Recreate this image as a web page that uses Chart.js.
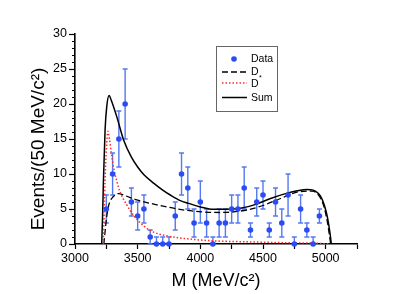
<!DOCTYPE html>
<html>
<head>
<meta charset="utf-8">
<script src="https://cdn.jsdelivr.net/npm/chart.js@4"></script>
<style>
  html, body { margin: 0; padding: 0; background: #fff; }
  #wrap { width: 415px; height: 294px; }
</style>
</head>
<body>
<div id="wrap"><canvas id="chart" width="415" height="294"></canvas></div>
<script>
// measured data points (50 MeV bins)
const massBins = [3250, 3300, 3350, 3400, 3450, 3500, 3550, 3600, 3650, 3700, 3750, 3800,
  3850, 3900, 3950, 4000, 4050, 4100, 4150, 4200, 4250, 4300, 4350, 4400, 4450, 4500,
  4550, 4600, 4650, 4700, 4750, 4800, 4850, 4900, 4950];
const events = [5, 10, 15, 20, 6, 4, 5, 1, 0, 0, 0, 4, 10, 8, 3, 6, 3, 0, 3, 3, 5, 5, 8, 2,
  6, 7, 2, 6, 3, 7, 0, 5, 2, 0, 4];
const errLow = [3, 7, 11, 15, 4, 2, 3, 0, 0, 0, 0, 2, 7, 5, 1, 3, 1, 0, 1, 1, 3, 3, 5, 1,
  4, 5, 1, 4, 1, 4, 0, 3, 1, 0, 3];
const errHigh = [7, 13, 19, 25, 8, 6, 7, 2, 1, 1, 1, 6, 13, 11, 5, 9, 5, 1, 5, 5, 7, 7, 11, 3,
  8, 9, 3, 8, 5, 10, 1, 7, 3, 1, 5];

// fit curves
const dMass = [3230, 3253, 3270, 3293, 3320, 3347, 3400, 3493, 3653, 3893, 4160, 4373, 4500,
  4640, 4800, 4893, 4950, 4987, 5015, 5040];
const dValues = [0, 3.9, 5.6, 6.5, 7.0, 7.2, 6.9, 6.3, 5.6, 4.8, 4.5, 4.86, 5.5, 6.5, 7.5,
  7.55, 6.8, 5.3, 3.0, 0];

const dStarMass = [3226, 3240, 3250, 3263, 3275, 3290, 3307, 3333, 3360, 3413, 3467, 3547,
  3627, 3750, 3920, 4107, 4400, 4640, 4900, 5040];
const dStarValues = [0, 9.0, 13.5, 16.1, 15.0, 13.0, 11.0, 9.0, 7.4, 5.6, 4.1, 2.6, 1.7, 1.1,
  0.7, 0.45, 0.3, 0.2, 0.12, 0];

const sumMass = [3213, 3220, 3227, 3240, 3253, 3272, 3290, 3333, 3387, 3450, 3500, 3550, 3627,
  3700, 3760, 3840, 3907, 4000, 4107, 4200, 4320, 4450, 4560, 4680, 4773, 4850, 4900, 4960,
  4990, 5013, 5035, 5045];
const sumValues = [0, 4, 9.1, 16.3, 19.6, 21.2, 20.5, 18.2, 14.9, 12.4, 11.0, 9.9, 8.7, 7.7, 7.0,
  6.2, 5.8, 5.3, 4.95, 4.95, 5.1, 5.7, 6.5, 7.2, 7.6, 7.8, 7.7, 6.8, 5.5, 3.9, 1.5, 0];

const BLUE = '#2b4cf5';
const BAR_BLUE = '#5479f0';
const FONT = 'Liberation Sans, Arial, sans-serif';

const pts = (xs, ys) => xs.map((x, i) => ({ x, y: ys[i] }));

// error bars, minor y ticks, y title and legend box
const extras = {
  id: 'extras',
  beforeDatasetsDraw(chart) {
    const { ctx, scales: { x, y } } = chart;
    ctx.save();
    ctx.strokeStyle = BAR_BLUE;
    ctx.lineWidth = 1.4;
    massBins.forEach((m, i) => {
      const px = x.getPixelForValue(m);
      const lo = y.getPixelForValue(errLow[i]);
      const hi = y.getPixelForValue(errHigh[i]);
      ctx.beginPath();
      ctx.moveTo(px, lo); ctx.lineTo(px, hi);
      ctx.moveTo(px - 2.5, lo); ctx.lineTo(px + 2.5, lo);
      ctx.moveTo(px - 2.5, hi); ctx.lineTo(px + 2.5, hi);
      ctx.stroke();
    });
    ctx.restore();
  },
  afterDraw(chart) {
    const { ctx, chartArea: a, scales: { y } } = chart;
    ctx.save();
    // minor ticks on y
    ctx.strokeStyle = '#000';
    ctx.lineWidth = 1;
    for (let v = 0; v <= 30; v++) {
      if (v % 5 === 0) continue;
      const py = Math.round(y.getPixelForValue(v)) + 0.5;
      ctx.beginPath();
      ctx.moveTo(a.left - 3, py); ctx.lineTo(a.left, py);
      ctx.stroke();
    }
    // y title
    ctx.fillStyle = '#000';
    ctx.font = `19px ${FONT}`;
    ctx.textAlign = 'center';
    ctx.textBaseline = 'middle';
    ctx.translate(39, 149);
    ctx.rotate(-Math.PI / 2);
    ctx.fillText('Events/(50 MeV/c²)', 0, 0);
    ctx.restore();

    // legend
    ctx.save();
    ctx.strokeStyle = '#666';
    ctx.lineWidth = 1;
    ctx.strokeRect(216.5, 46.5, 61, 65);
    ctx.font = `10.5px ${FONT}`;
    ctx.fillStyle = '#000';
    ctx.textBaseline = 'middle';
    ctx.textAlign = 'left';

    ctx.fillStyle = BLUE;
    ctx.beginPath(); ctx.arc(234, 59, 2.8, 0, Math.PI * 2); ctx.fill();
    ctx.fillStyle = '#000';
    ctx.fillText('Data', 251, 59.5);

    ctx.strokeStyle = '#000';
    ctx.lineWidth = 1.3;
    ctx.setLineDash([6, 3]);
    ctx.beginPath(); ctx.moveTo(222, 72); ctx.lineTo(247, 72); ctx.stroke();
    ctx.fillText('D', 251, 72);

    ctx.strokeStyle = '#ff2a2a';
    ctx.lineWidth = 1.5;
    ctx.setLineDash([1.5, 2]);
    ctx.beginPath(); ctx.moveTo(222, 83); ctx.lineTo(247, 83); ctx.stroke();
    ctx.fillText('D', 251, 84.5);
    ctx.font = `7px ${FONT}`;
    ctx.fillText('*', 259, 78.5);

    ctx.font = `10.5px ${FONT}`;
    ctx.strokeStyle = '#000';
    ctx.setLineDash([]);
    ctx.beginPath(); ctx.moveTo(222, 97.5); ctx.lineTo(247, 97.5); ctx.stroke();
    ctx.fillText('Sum', 251, 98.5);
    ctx.restore();
  }
};

new Chart(document.getElementById('chart'), {
  type: 'scatter',
  data: {
    datasets: [
      {
        label: 'Data',
        data: pts(massBins, events),
        backgroundColor: BLUE,
        borderWidth: 0,
        pointRadius: 2.8,
        clip: false,
        order: 0,
      },
      {
        label: 'D',
        type: 'line',
        data: pts(dMass, dValues),
        borderColor: '#000',
        borderWidth: 1.3,
        borderDash: [6, 3],
        pointRadius: 0,
        cubicInterpolationMode: 'monotone',
        fill: false,
        order: 3,
      },
      {
        label: 'D*',
        type: 'line',
        data: pts(dStarMass, dStarValues),
        borderColor: '#ff2a2a',
        borderWidth: 1.5,
        borderDash: [1.5, 2],
        pointRadius: 0,
        cubicInterpolationMode: 'monotone',
        fill: false,
        order: 2,
      },
      {
        label: 'Sum',
        type: 'line',
        data: pts(sumMass, sumValues),
        borderColor: '#000',
        borderWidth: 1.5,
        pointRadius: 0,
        cubicInterpolationMode: 'monotone',
        fill: false,
        order: 1,
      },
    ],
  },
  options: {
    responsive: false,
    animation: false,
    layout: { padding: { top: 34, right: 58, left: 0, bottom: 0 } },
    plugins: { legend: { display: false }, tooltip: { enabled: false } },
    scales: {
      x: {
        type: 'linear',
        min: 3000,
        max: 5250,
        afterFit: s => { s.height = 50; },
        ticks: {
          stepSize: 250,
          autoSkip: false,
          maxRotation: 0,
          padding: 2,
          color: '#000',
          font: { family: FONT, size: 12.5 },
          callback: v => (v % 500 === 0 && v <= 5000 ? v : ''),
        },
        grid: { drawOnChartArea: false, tickLength: 5, tickColor: '#000', tickWidth: 1.2 },
        border: { color: '#000', width: 1.6 },
        title: {
          display: true,
          text: 'M (MeV/c²)',
          color: '#000',
          font: { family: FONT, size: 18 },
          padding: { top: 0, bottom: 2 },
        },
      },
      y: {
        min: 0,
        max: 30,
        afterFit: s => { s.width = 75; },
        ticks: {
          stepSize: 1,
          autoSkip: false,
          padding: 2,
          color: '#000',
          font: { family: FONT, size: 12.5 },
          callback: v => (v % 5 === 0 ? v : ''),
        },
        grid: {
          drawOnChartArea: false,
          tickLength: 6,
          tickWidth: 1.2,
          tickColor: c => (c.tick && c.tick.value % 5 === 0 ? '#000' : 'rgba(0,0,0,0)'),
        },
        border: { color: '#000', width: 1.6 },
      },
    },
  },
  plugins: [extras],
});
</script>
</body>
</html>
